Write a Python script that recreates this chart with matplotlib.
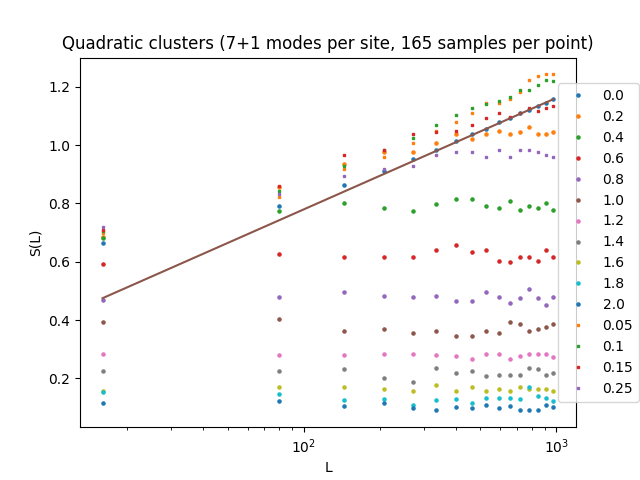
import numpy as np
import matplotlib
matplotlib.use("Agg")
import matplotlib.pyplot as plt

L = np.arange(16, 1000, 64)

# circles: modes 0.0 ... 2.0
labels_circ = ["0.0", "0.2", "0.4", "0.6", "0.8", "1.0", "1.2", "1.4", "1.6", "1.8", "2.0"]
s00 = [0.666, 0.790, 0.862, 0.913, 0.954, 0.985, 1.013, 1.037, 1.057, 1.078, 1.092, 1.109, 1.122, 1.136, 1.146, 1.157]
s02 = [0.684, 0.855, 0.934, 0.978, 0.978, 1.006, 1.037, 1.023, 1.040, 1.050, 1.037, 1.044, 1.064, 1.040, 1.040, 1.044]
s04 = [0.680, 0.773, 0.803, 0.786, 0.773, 0.797, 0.814, 0.814, 0.793, 0.786, 0.807, 0.779, 0.793, 0.786, 0.803, 0.776]
s06 = [0.591, 0.625, 0.618, 0.615, 0.618, 0.642, 0.656, 0.635, 0.639, 0.601, 0.598, 0.618, 0.615, 0.604, 0.639, 0.618]
s08 = [0.468, 0.478, 0.495, 0.481, 0.478, 0.484, 0.464, 0.464, 0.495, 0.478, 0.460, 0.474, 0.505, 0.474, 0.450, 0.478]
s10 = [0.392, 0.402, 0.364, 0.368, 0.357, 0.364, 0.347, 0.347, 0.364, 0.354, 0.395, 0.388, 0.361, 0.368, 0.375, 0.388]
s12 = [0.285, 0.279, 0.279, 0.285, 0.282, 0.279, 0.275, 0.268, 0.282, 0.285, 0.265, 0.275, 0.285, 0.282, 0.285, 0.272]
s14 = [0.224, 0.224, 0.231, 0.200, 0.189, 0.234, 0.220, 0.224, 0.207, 0.213, 0.213, 0.213, 0.234, 0.231, 0.210, 0.217]
s16 = [0.156, 0.169, 0.172, 0.162, 0.158, 0.176, 0.158, 0.172, 0.155, 0.162, 0.155, 0.169, 0.162, 0.165, 0.165, 0.158]
s18 = [0.153, 0.145, 0.124, 0.128, 0.110, 0.124, 0.128, 0.117, 0.134, 0.131, 0.131, 0.128, 0.172, 0.141, 0.134, 0.121]
s20 = [0.117, 0.121, 0.104, 0.114, 0.097, 0.090, 0.100, 0.097, 0.110, 0.097, 0.104, 0.090, 0.093, 0.093, 0.110, 0.100]

# squares: small modes
labels_sq = ["0.05", "0.1", "0.15", "0.25"]
s005 = [0.700, 0.824, 0.920, 0.961, 1.006, 1.050, 1.081, 1.109, 1.146, 1.146, 1.160, 1.184, 1.225, 1.236, 1.243, 1.243]
s01 = [0.705, 0.842, 0.930, 0.983, 1.026, 1.071, 1.105, 1.126, 1.140, 1.153, 1.164, 1.191, 1.191, 1.205, 1.225, 1.219]
s015 = [0.710, 0.859, 0.965, 0.985, 1.037, 1.044, 1.050, 1.071, 1.095, 1.109, 1.098, 1.112, 1.126, 1.116, 1.129, 1.133]
s025 = [0.721, 0.832, 0.896, 0.920, 0.930, 0.965, 0.975, 0.978, 0.958, 0.982, 0.958, 0.982, 0.982, 0.975, 0.968, 0.958]

# log fit line  S = a + b*log10(L)
fit_a = 0.0143
fit_b = 0.3826

circ = [s00, s02, s04, s06, s08, s10, s12, s14, s16, s18, s20]
sq = [s005, s01, s015, s025]

plt.figure(figsize=(6.4, 4.8), dpi=100)
for lab, s in zip(labels_circ, circ):
    plt.plot(L, s, '.', markersize=4.5, label=lab)
for lab, s in zip(labels_sq, sq):
    plt.plot(L, s, 's', markersize=1.6, label=lab)

plt.plot(L, fit_a + fit_b * np.log10(L))

plt.xscale('log')
plt.xlabel('L')
plt.ylabel('S(L)')
plt.title('Quadratic clusters (7+1 modes per site, 165 samples per point)')
plt.legend(loc='center left', bbox_to_anchor=(0.95, 0.5))
plt.savefig('out.png')
